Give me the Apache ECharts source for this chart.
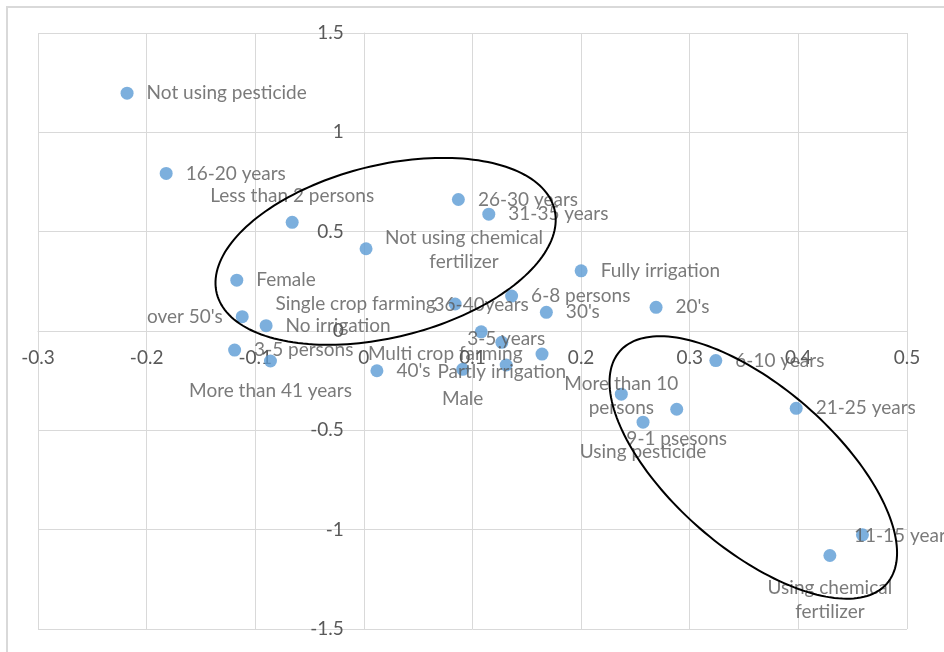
<!DOCTYPE html>
<html>
<head>
<meta charset="utf-8">
<title>Correspondence map</title>
<script src="https://cdn.jsdelivr.net/npm/echarts@6/dist/echarts.min.js"></script>
<style>
  html, body { margin: 0; padding: 0; background: #ffffff; }
  #chart { width: 944px; height: 652px; }
</style>
</head>
<body>
<div id="chart"></div>
<script>
// Category points of the correspondence analysis (dimension 1 / dimension 2)
const pointNames = [
  'Not using pesticide', '16-20 years', 'Less than 2 persons', '26-30 years', '31-35 years',
  'Not using chemical\nfertilizer', 'Fully irrigation', 'Female', 'Single crop farming', '6-8 persons',
  "30's", "20's", "over 50's", 'No irrigation', '36-40years',
  'Partly irrigation', '3-5 years', '3-5 persons', 'More than 41 years', "40's",
  'Male', 'Multi crop farming', '6-10 years', 'More than 10\npersons', '9-1 psesons',
  'Using pesticide', '21-25 years', '11-15 years', 'Using chemical\nfertilizer'
];
const dim1 = [
  -0.218, -0.182, -0.066, 0.087, 0.115,
  0.002, 0.200, -0.117, 0.084, 0.136,
  0.168, 0.269, -0.112, -0.090, 0.108,
  0.127, 0.131, -0.119, -0.086, 0.012,
  0.091, 0.164, 0.324, 0.237, 0.288,
  0.257, 0.398, 0.459, 0.429
];
const dim2 = [
  1.197, 0.793, 0.547, 0.662, 0.588,
  0.414, 0.303, 0.256, 0.136, 0.176,
  0.094, 0.119, 0.072, 0.027, -0.004,
  -0.057, -0.171, -0.096, -0.151, -0.200,
  -0.193, -0.116, -0.149, -0.318, -0.394,
  -0.459, -0.389, -1.026, -1.130
];
const xTicks = { min: -0.3, max: 0.5, step: 0.1 };
const yTicks = { min: -1.5, max: 1.5, step: 0.5 };

// Where each point's label sits (default: to the right of the marker)
const labelPlacement = {
  'Less than 2 persons': { position: 'top', distance: 8 },
  '36-40years': { position: 'top', distance: 8 },
  '3-5 years': { position: 'top', distance: 8 },
  "over 50's": { position: 'left', distance: 13 },
  'Single crop farming': { position: 'left', distance: 13 },
  'Multi crop farming': { position: 'left', distance: 13 },
  'Partly irrigation': { position: 'bottom', distance: 11 },
  'More than 41 years': { position: 'bottom', distance: 11 },
  'Male': { position: 'bottom', distance: 11 },
  '9-1 psesons': { position: 'bottom', distance: 11 },
  'Using pesticide': { position: 'bottom', distance: 11 },
  'Not using chemical\nfertilizer': { position: 'inside', offset: [98, 1] },
  'More than 10\npersons': { position: 'inside', offset: [0, 2] },
  'Using chemical\nfertilizer': { position: 'inside', offset: [0, 44] },
  '11-15 years': { position: 'right', distance: 13, offset: [-28, 1] }
};

// Hand-drawn grouping rings (centre in data units, radii in pixels, tilt in degrees)
const groupRings = [
  { center: [0.020, 0.401], rx: 174, ry: 86, tilt: 14 },
  { center: [0.3585, -0.687], rx: 177, ry: 81, tilt: -41 }
];

const FONT = 'Lato';
const TEXT = '#595959';
const GRID_LINE = '#d9d9d9';
const W = 944, H = 652;
const grid = { left: 38, right: 37, top: 33, bottom: 23 };

// Axes cross at the origin: shift each axis from the grid edge to the zero line
const plotW = W - grid.left - grid.right;
const plotH = H - grid.top - grid.bottom;
const yAxisShift = -plotW * (0 - xTicks.min) / (xTicks.max - xTicks.min);
const xAxisShift = -plotH * (0 - yTicks.min) / (yTicks.max - yTicks.min);

const points = pointNames.map((name, i) => {
  const place = labelPlacement[name] || { position: 'right', distance: 13 };
  return { name: name, value: [dim1[i], dim2[i]], label: Object.assign({}, place) };
});

const chart = echarts.init(document.getElementById('chart'), null, { renderer: 'canvas' });

function axisBase(extra) {
  return Object.assign({
    type: 'value',
    axisLine: { show: true, onZero: false, lineStyle: { color: GRID_LINE, width: 1 } },
    axisTick: { show: false },
    splitLine: { show: true, lineStyle: { color: GRID_LINE, width: 1 } }
  }, extra);
}
const tickLabel = { color: TEXT, fontSize: 19, fontFamily: FONT, showMinLabel: true, showMaxLabel: true };

chart.setOption({
  backgroundColor: '#ffffff',
  animation: false,
  grid: Object.assign({ containLabel: false, outerBoundsMode: 'none' }, grid),
  xAxis: axisBase({
    position: 'bottom',
    offset: xAxisShift,
    min: xTicks.min, max: xTicks.max, interval: xTicks.step,
    axisLabel: Object.assign({}, tickLabel, { margin: 17 })
  }),
  yAxis: axisBase({
    position: 'left',
    offset: yAxisShift,
    min: yTicks.min, max: yTicks.max, interval: yTicks.step,
    axisLabel: Object.assign({}, tickLabel, { margin: 20 })
  }),
  series: [{
    type: 'scatter',
    symbol: 'circle',
    symbolSize: 13,
    itemStyle: { color: '#5b9bd5' },
    label: {
      show: true,
      formatter: '{b}',
      color: TEXT,
      fontSize: 19,
      fontFamily: FONT,
      lineHeight: 24
    },
    data: points
  }]
});

// Rings and the outer chart frame are drawn on top as graphic elements
function ringPoints(ring) {
  const c = chart.convertToPixel({ gridIndex: 0 }, ring.center);
  const t = ring.tilt * Math.PI / 180;
  const ux = Math.cos(t), uy = -Math.sin(t);
  const vx = -uy, vy = ux;
  const pts = [];
  const steps = 180;
  for (let k = 0; k < steps; k++) {
    const a = (k / steps) * Math.PI * 2;
    const ca = Math.cos(a) * ring.rx, sa = Math.sin(a) * ring.ry;
    pts.push([c[0] + ca * ux + sa * vx, c[1] + ca * uy + sa * vy]);
  }
  return pts;
}

chart.setOption({
  graphic: [
    {
      type: 'rect',
      silent: true,
      shape: { x: 7, y: 7, width: 1000, height: 1000 },
      style: { fill: 'none', stroke: '#d9d9d9', lineWidth: 2 },
      z: 0
    }
  ].concat(groupRings.map(ring => ({
    type: 'polygon',
    silent: true,
    shape: { points: ringPoints(ring) },
    style: { fill: 'none', stroke: '#000000', lineWidth: 2 },
    z: 100
  })))
});
</script>
</body>
</html>
